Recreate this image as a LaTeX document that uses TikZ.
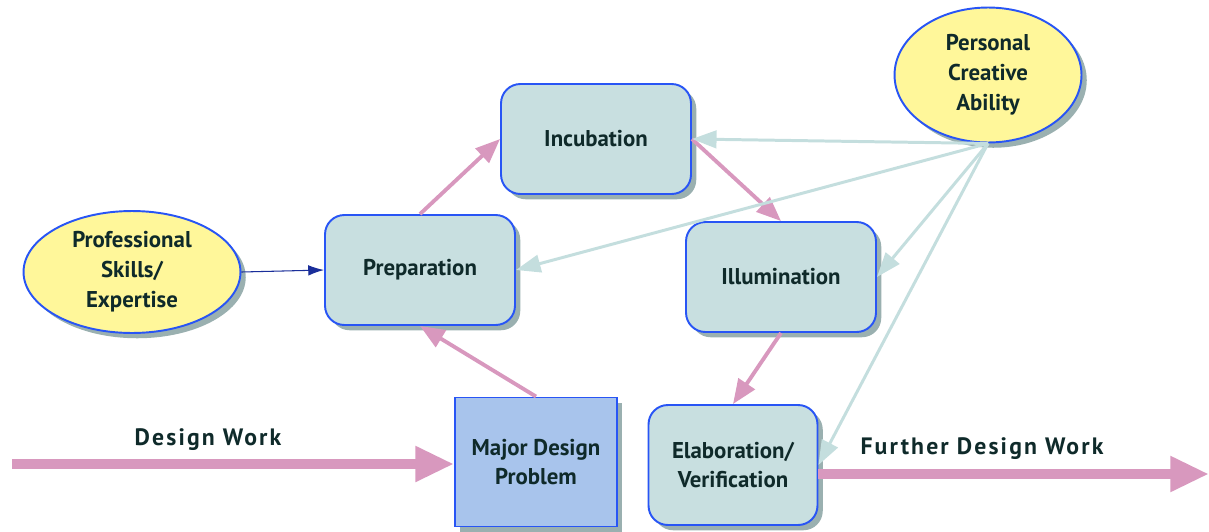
\documentclass[tikz,border=0pt]{standalone}
\usepackage{fontspec}
\setmainfont{PT Sans}
\usetikzlibrary{arrows.meta,shadows,shapes.geometric}
\definecolor{boxfill}{HTML}{C8DFE0}
\definecolor{probfill}{HTML}{A8C4EC}
\definecolor{yellowfill}{HTML}{FFF79A}
\definecolor{edgeblue}{HTML}{2855F5}
\definecolor{shadowgray}{HTML}{9AB0B0}
\definecolor{flowpink}{HTML}{D898BE}
\definecolor{hintcyan}{HTML}{C4DEDE}
\definecolor{inkdark}{HTML}{0F2A2A}
\definecolor{skillblue}{HTML}{1A2E9A}

\begin{document}
\begin{tikzpicture}
[x=0.02cm, y=-0.02cm, font=\bfseries\fontsize{13}{17}\selectfont, text=inkdark,
stage/.style={rectangle, rounded corners=11pt, draw=edgeblue, line width=1.1pt,
    fill=boxfill, align=center, minimum width=3.8cm, minimum height=2.2cm,
    drop shadow={shadow xshift=3pt, shadow yshift=-3pt, fill=shadowgray, opacity=1}},
source/.style={ellipse, draw=edgeblue, line width=1.1pt, fill=yellowfill,
    align=center, inner sep=0pt,
    drop shadow={shadow xshift=3pt, shadow yshift=-3pt, fill=shadowgray, opacity=1}},
flow/.style={draw=flowpink, line width=2.2pt, -{Triangle[length=14pt,width=11pt]}},
hint/.style={draw=hintcyan, line width=1.7pt, -{Triangle[length=14pt,width=10pt]}},
wide flow/.style={draw=flowpink, line width=5.5pt, -{Triangle[length=22pt,width=19pt]}},
worklabel/.style={font=\bfseries\fontsize{13.5}{16}\selectfont\addfontfeature{LetterSpace=9}}]

\useasboundingbox (0,0) rectangle (1209,531);

% stages
\node[stage] (prep) at (420, 270) {Preparation};
\node[stage] (incub) at (596, 139) {Incubation};
\node[stage] (illum) at (781, 277) {Illumination};
\node[stage, minimum width=3.38cm, minimum height=2.4cm] (elab) at (733, 465)
    {Elaboration/\\Verification};
\node[rectangle, draw=edgeblue, line width=1.1pt, fill=probfill, align=center,
    minimum width=3.24cm, minimum height=2.58cm,
    drop shadow={shadow xshift=3pt, shadow yshift=-3pt, fill=shadowgray, opacity=1}]
    (problem) at (536, 462) {Major Design\\Problem};

% sources
\node[source, minimum width=4.34cm, minimum height=2.44cm] (skills) at (132, 272)
    {Professional\\Skills/\\Expertise};
\node[source, minimum width=3.74cm, minimum height=2.7cm] (personal) at (988, 75)
    {Personal\\Creative\\Ability};

% cycle
\draw[flow] (prep.north) -- (incub.west);
\draw[flow] (incub.east) -- (illum.north);
\draw[flow] (illum.south) -- (elab.north);
\draw[flow] (problem.north) -- (prep.south);
\draw[skillblue, line width=0.6pt, -{Latex[length=9pt,width=6pt]}] (skills.east) -- (prep.west);

% creative influence
\foreach \t in {incub, prep, illum, elab} {
    \draw[hint] (personal.south) -- (\t.east);
}

% design work
\coordinate (dwstart) at (12, 464);
\coordinate (fwend) at (1209, 474);
\draw[wide flow] (dwstart) -- (dwstart -| problem.west);
\draw[wide flow] (elab.east |- fwend) -- (fwend);
\node[worklabel] (dwlabel) at (208, 440) {Design Work};
\node[worklabel] (fwlabel) at (982, 449) {Further Design Work};

\end{tikzpicture}
\end{document}
